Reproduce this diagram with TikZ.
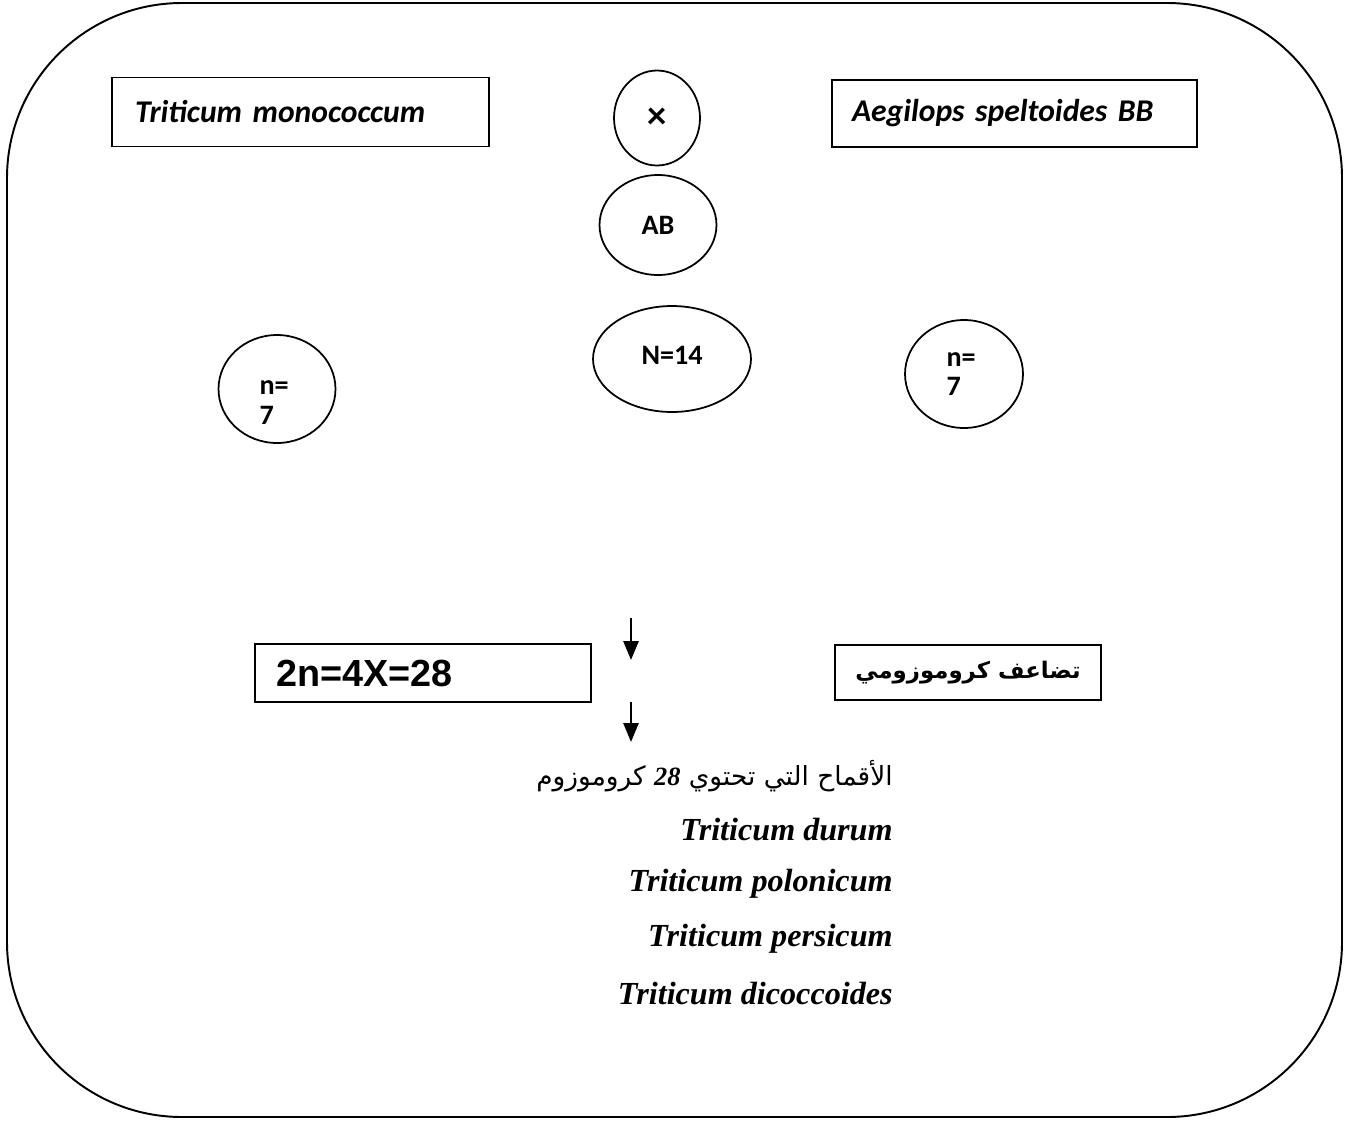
\documentclass[tikz,border=0pt]{standalone}
\usepackage{fontspec}
\setmainfont{Liberation Serif}
\newfontfamily\calibri{Carlito}
\newfontfamily\arial{Liberation Sans}
\newfontfamily\arabicfont[Script=Arabic]{DejaVu Sans}
\TeXXeTstate=1
\usetikzlibrary{arrows.meta,shapes.geometric}

\tikzset{
  namebox/.style={draw, line width=1pt, minimum height=1.38cm, align=left,
    font=\calibri\bfseries\itshape\fontsize{18}{20}\selectfont},
  cell/.style={draw, ellipse, line width=1pt, inner sep=0pt, align=left,
    font=\calibri\bfseries\fontsize{16}{17}\selectfont},
  stepline/.style={line width=1.6pt, -{Triangle[length=0.38cm,width=0.3cm]}},
  species/.style={anchor=east, inner sep=0pt, font=\bfseries\itshape\fontsize{18.3}{20}\selectfont}
}

\begin{document}
\begin{tikzpicture}[x=0.02cm,y=-0.02cm]
\useasboundingbox (0,0) rectangle (1349,1120);
\draw[line width=1.1pt, rounded corners=3.5cm] (7,3) rectangle (1342,1117);

% parents
\node[namebox, text width=6.62cm, inner xsep=0.46cm] (mono) at (300.5,112) {Triticum monococcum};
\node[namebox, text width=6.5cm, inner xsep=0.4cm, minimum height=1.34cm] (aegi) at (1014.5,113.5) {Aegilops speltoides BB};
\node[cell, minimum width=1.72cm, minimum height=1.9cm, font=\calibri\bfseries\fontsize{22}{24}\selectfont] (cross) at (657,118) {\raisebox{-0.1cm}{×}};
\node[cell, minimum width=2.34cm, minimum height=2cm] (ab) at (658,225) {AB};
\node[cell, minimum width=3.16cm, minimum height=2.12cm] (hyb) at (672,359) {\raisebox{0.14cm}{N=14}};
\node[cell, minimum width=2.34cm, minimum height=2.16cm, text width=0.7cm] (gleft) at (277,389) {\rule{0pt}{0.82cm}n=\\7};
\node[cell, minimum width=2.36cm, minimum height=2.16cm, text width=0.7cm] (gright) at (964,374) {n=\\7};

% doubling
\coordinate (a1) at (631,618);
\coordinate (a2) at (631,660);
\coordinate (b1) at (631,702);
\coordinate (b2) at (631,742);
\draw[stepline] (a1) -- (a2);
\draw[stepline] (b1) -- (b2);
\node[draw, line width=1pt, minimum width=6.72cm, minimum height=1.16cm, text width=5.88cm, inner xsep=0.42cm, align=left,
  font=\arial\bfseries\fontsize{21.5}{24}\selectfont] (tetra) at (423,673) {2n=4X=28};
\node[draw, line width=1pt, minimum width=5.32cm, minimum height=1.1cm,
  font=\arabicfont\bfseries\fontsize{13}{16}\selectfont] (dbl) at (968,672.5) {\beginR تضاعف كروموزومي\endR};

% tetraploid wheats
\node[anchor=east, inner sep=0pt, font=\arabicfont\fontsize{15}{18}\selectfont] (title) at (893,776)
  {\beginR الأقماح التي تحتوي {\rmfamily\bfseries\itshape\beginL 28\endL} كروموزوم\endR};
\node[species] (durum) at (893,830) {Triticum durum};
\node[species] (polon) at (893,884) {Triticum polonicum};
\node[species] (persi) at (893,939) {Triticum persicum};
\node[species] (dicoc) at (893,994) {Triticum dicoccoides};
\end{tikzpicture}
\end{document}
